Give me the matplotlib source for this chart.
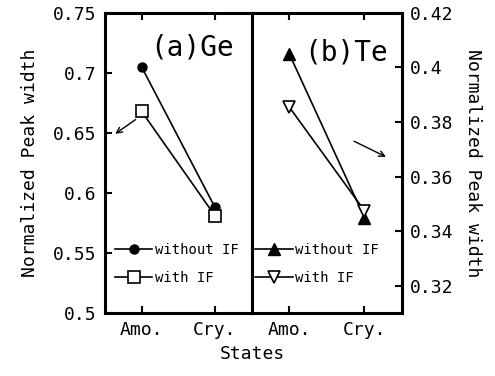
import matplotlib.pyplot as plt
import numpy as np

plt.rcParams['font.family'] = 'DejaVu Sans Mono'

states = ['Amo.', 'Cry.']
ge_without = [0.705, 0.588]
ge_with = [0.668, 0.581]
te_without = [0.405, 0.345]
te_with = [0.3855, 0.3475]

ge_ticks = [0.5, 0.55, 0.6, 0.65, 0.7, 0.75]
ge_labels = ['0.5', '0.55', '0.6', '0.65', '0.7', '0.75']
te_ticks = [0.32, 0.34, 0.36, 0.38, 0.40, 0.42]
te_labels = ['0.32', '0.34', '0.36', '0.38', '0.4', '0.42']

fig = plt.figure(figsize=(4.95, 3.76), dpi=100)
ax1 = fig.add_axes([0.212, 0.1676, 0.2964, 0.798])
ax2 = fig.add_axes([0.5085, 0.1676, 0.3036, 0.798])

x = np.arange(len(states))

ax1.plot(x, ge_without, '-o', color='k', lw=1.2, ms=6.5, mfc='k', mec='k',
         label='without IF')
ax1.plot(x, ge_with, '-s', color='k', lw=1.2, ms=8, mfc='white', mec='k',
         mew=1.2, label='with IF')
ax2.plot(x, te_without, '-^', color='k', lw=1.2, ms=9, mfc='k', mec='k',
         label='without IF')
ax2.plot(x, te_with, '-v', color='k', lw=1.2, ms=9, mfc='white', mec='k',
         mew=1.2, label='with IF')

ax1.set_ylim(0.5, 0.75)
ax2.set_ylim(0.31, 0.42)
for ax in (ax1, ax2):
    ax.set_xlim(-0.5, 1.5)
    ax.set_xticks(x)
    ax.set_xticklabels(states, fontsize=13)
    for s in ax.spines.values():
        s.set_linewidth(2.2)
    ax.tick_params(direction='in', length=5, width=1.5, top=True,
                   labelsize=13, pad=6)

ax1.set_yticks(ge_ticks)
ax1.set_yticklabels(ge_labels)
ax1.tick_params(axis='y', right=False)
ax1.set_ylabel('Normalized Peak width', fontsize=13, labelpad=10)

ax2.yaxis.tick_right()
ax2.yaxis.set_label_position('right')
ax2.set_yticks(te_ticks)
ax2.set_yticklabels(te_labels)
ax2.tick_params(axis='y', left=False, right=True, direction='in')
ax2.set_ylabel('Normalized Peak width', fontsize=13, rotation=270,
               labelpad=20)

ax1.text(0.12, 0.733, '(a)Ge', fontsize=20, va='top', ha='left')
ax2.text(0.2, 0.4105, '(b)Te', fontsize=20, va='top', ha='left')

ax1.annotate('', xy=(-0.39, 0.648), xytext=(-0.05, 0.6625),
             arrowprops=dict(arrowstyle='->', color='k', lw=1))
ax2.annotate('', xy=(1.32, 0.3668), xytext=(0.83, 0.3734),
             arrowprops=dict(arrowstyle='->', color='k', lw=1))

ax1.legend(loc='lower left', bbox_to_anchor=(0.068, 0.093), frameon=False,
           fontsize=10, handlelength=2.7, handletextpad=0.2,
           labelspacing=1.0, borderpad=0, borderaxespad=0)
ax2.legend(loc='lower left', bbox_to_anchor=(0.022, 0.093), frameon=False,
           fontsize=10, handlelength=2.7, handletextpad=0.2,
           labelspacing=1.0, borderpad=0, borderaxespad=0)

fig.text(0.51, 0.035, 'States', fontsize=13, ha='center', va='bottom')

fig.savefig('out.png', dpi=100)
